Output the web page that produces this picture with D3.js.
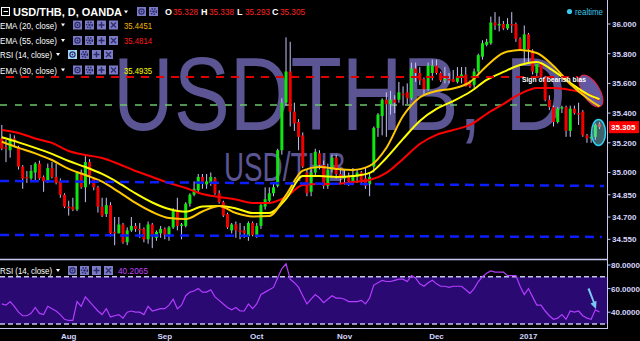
<!DOCTYPE html>
<html>
<head>
<meta charset="utf-8">
<script src="https://cdn.jsdelivr.net/npm/d3@7"></script>
<style>
  html, body { margin: 0; padding: 0; background: #000; }
  svg { display: block; }
  text { font-family: "Liberation Sans", Arial, sans-serif; }
</style>
</head>
<body>
<div id="chart"></div>
<script>
// Data: daily candles [open, high, low, close], Jul 8 2016 -> Jan 2017
const candles = [
  [35.23,35.32,35.15,35.16],[35.17,35.22,35.07,35.16],[35.15,35.26,35.10,35.23],[35.23,35.25,35.17,35.22],
  [35.17,35.18,35.02,35.04],[35.04,35.05,34.89,34.96],[34.97,35.01,34.93,34.96],[34.96,35.05,34.95,35.01],
  [35.00,35.07,34.94,35.06],[35.06,35.08,34.95,34.96],[34.97,34.98,34.87,34.94],[34.94,35.06,34.93,35.03],
  [35.03,35.07,34.96,34.97],[34.97,35.06,34.92,34.93],[34.94,34.96,34.83,34.85],[34.85,34.86,34.76,34.77],
  [34.77,34.81,34.71,34.76],[34.77,34.83,34.74,34.75],[34.75,35.01,34.74,35.00],[35.00,35.02,34.89,34.90],
  [34.90,35.11,34.80,35.07],[35.07,35.09,34.92,34.98],[34.96,34.97,34.88,34.90],[34.90,34.91,34.73,34.77],
  [34.77,34.83,34.70,34.71],[34.72,34.83,34.70,34.78],[34.78,34.80,34.57,34.59],[34.60,34.70,34.51,34.59],
  [34.59,34.70,34.59,34.65],[34.65,34.66,34.52,34.53],[34.53,34.63,34.51,34.61],[34.61,34.70,34.60,34.64],
  [34.64,34.66,34.60,34.62],[34.62,34.66,34.56,34.61],[34.62,34.63,34.53,34.55],[34.55,34.67,34.52,34.65],
  [34.65,34.66,34.49,34.57],[34.56,34.61,34.54,34.60],[34.59,34.64,34.56,34.62],[34.62,34.63,34.55,34.58],
  [34.58,34.64,34.54,34.63],[34.63,34.76,34.62,34.74],[34.74,34.83,34.61,34.64],[34.64,34.66,34.55,34.65],
  [34.64,34.80,34.63,34.79],[34.79,34.86,34.77,34.85],[34.85,34.94,34.84,34.89],[34.88,34.99,34.86,34.97],
  [34.97,34.99,34.89,34.93],[34.92,34.99,34.89,34.94],[34.93,35.00,34.91,34.97],[34.96,34.97,34.85,34.86],
  [34.86,34.88,34.79,34.80],[34.80,34.81,34.70,34.71],[34.72,34.73,34.62,34.63],[34.61,34.66,34.59,34.65],
  [34.65,34.67,34.56,34.61],[34.61,34.66,34.55,34.60],[34.61,34.64,34.56,34.59],[34.57,34.67,34.54,34.66],
  [34.66,34.67,34.57,34.58],[34.58,34.66,34.56,34.64],[34.64,34.79,34.62,34.78],[34.77,34.90,34.75,34.82],
  [34.81,34.90,34.79,34.86],[34.86,34.93,34.84,34.90],[34.91,35.16,34.90,35.15],[35.15,35.50,35.12,35.47],
  [35.47,35.91,35.45,35.68],[35.68,35.88,35.31,35.41],[35.41,35.47,35.28,35.33],[35.34,35.36,35.15,35.24],
  [35.25,35.27,35.03,35.04],[35.00,35.02,34.84,34.86],[34.87,35.02,34.84,35.00],[35.00,35.16,34.98,35.14],
  [35.13,35.15,35.02,35.05],[35.05,35.08,34.89,34.91],[34.91,35.06,34.89,35.02],[35.02,35.12,35.00,35.10],
  [35.10,35.12,34.96,34.99],[34.99,35.03,34.92,34.96],[34.96,35.02,34.92,34.97],[34.97,35.00,34.91,34.94],
  [34.94,35.03,34.92,34.98],[34.97,35.02,34.93,35.00],[35.00,35.01,34.93,34.95],[34.96,35.03,34.89,34.91],
  [34.92,35.00,34.84,34.97],[35.04,35.31,35.00,35.30],[35.30,35.40,35.24,35.39],[35.38,35.50,35.25,35.49],
  [35.49,35.54,35.24,35.46],[35.46,35.55,35.39,35.49],[35.49,35.52,35.40,35.47],[35.49,35.61,35.47,35.54],
  [35.53,35.58,35.45,35.52],[35.54,35.60,35.46,35.50],[35.50,35.74,35.49,35.70],[35.70,35.74,35.61,35.67],
  [35.67,35.71,35.59,35.62],[35.63,35.64,35.52,35.56],[35.56,35.74,35.55,35.72],[35.67,35.76,35.62,35.72],
  [35.72,35.76,35.66,35.67],[35.67,35.68,35.61,35.62],[35.62,35.71,35.60,35.63],[35.63,35.67,35.60,35.62],
  [35.63,35.69,35.61,35.61],[35.61,35.71,35.60,35.64],[35.64,35.71,35.60,35.66],[35.66,35.71,35.58,35.58],
  [35.60,35.62,35.57,35.58],[35.59,35.70,35.57,35.68],[35.68,35.80,35.66,35.79],[35.78,35.89,35.76,35.87],
  [35.86,35.90,35.85,35.88],[35.87,36.05,35.86,36.01],[36.01,36.08,35.96,35.99],[35.99,36.05,35.95,36.00],
  [36.00,36.02,35.96,35.97],[35.97,36.04,35.96,36.00],[36.00,36.08,35.94,35.99],[36.00,36.01,35.88,35.90],
  [35.90,35.91,35.82,35.83],[35.83,35.99,35.74,35.93],[35.93,35.94,35.73,35.83],[35.82,35.83,35.66,35.68],
  [35.67,35.73,35.64,35.73],[35.73,35.74,35.63,35.64],[35.64,35.65,35.48,35.49],[35.49,35.52,35.42,35.44],
  [35.44,35.45,35.31,35.34],[35.34,35.44,35.33,35.43],[35.43,35.45,35.40,35.44],[35.44,35.45,35.24,35.28],
  [35.28,35.45,35.24,35.43],[35.43,35.45,35.39,35.40],[35.40,35.47,35.32,35.39],[35.41,35.42,35.24,35.25],
  [35.25,35.26,35.20,35.23],[35.23,35.26,35.20,35.24],[35.24,35.33,35.22,35.32],[35.328,35.338,35.293,35.305]
]

// RSI(14) per bar
const rsi = [
  47,46,49,45,40,37,37,39,44,39, 38,45,43,41,38,34,33,33,49,45,
  53,49,45,41,38,43,36,37,38,35, 40,41,40,40,38,45,41,42,43,43,
  46,51,43,46,54,57,58,60,57,57, 59,53,50,47,44,42,44,41,41,47,
  43,47,55,57,59,61,69,77,81,68, 65,61,54,47,51,55,52,48,51,54,
  52,52,51,49,49,49,50,47,52,63, 65,67,66,66,67,68,68,66,71,69,
  64,62,65,67,64,62,62,61,62,62, 62,59,56,60,66,70,73,75,74,74,
  74,71,71,71,62,55,60,53,46,46, 41,37,34,35,38,34,41,40,41,37,
  35,34,42,40.2065
]

// EMA readings, sampled at these bars
const emaBars = [0,4,8,12,16,20,24,28,32,36,40,44,48,52,56,60,64,68,72,76,80,84,88,92,96,100,104,108,112,116,120,124,128,132,136,140,143]
const ema20 = [35.207,35.166,35.129,35.084,35.024,34.983,34.938,34.869,34.795,34.734,34.694,34.687,34.737,34.774,34.727,34.704,34.707,34.848,35.013,35.037,35.024,35.017,35.044,35.165,35.380,35.505,35.549,35.566,35.609,35.717,35.805,35.825,35.805,35.717,35.596,35.502,35.445]
const ema30 = [35.237,35.203,35.166,35.125,35.077,35.037,34.990,34.929,34.859,34.798,34.754,34.736,34.771,34.774,34.758,34.727,34.727,34.822,34.976,34.976,34.970,34.976,34.997,35.098,35.226,35.347,35.428,35.481,35.542,35.623,35.677,35.724,35.744,35.684,35.603,35.529,35.4935]
const ema55 = [35.286,35.266,35.229,35.199,35.145,35.118,35.098,35.057,35.010,34.970,34.929,34.896,34.855,34.835,34.818,34.795,34.795,34.835,34.916,34.923,34.923,34.936,34.949,34.997,35.091,35.192,35.253,35.286,35.320,35.394,35.461,35.529,35.569,35.569,35.556,35.529,35.488]

// axis ticks
const priceTicks = [36.0, 35.8, 35.6, 35.4, 35.2, 35.0, 34.85, 34.7, 34.55]
const rsiTicks = [80, 60, 40]
const monthLabels = ['Aug', 'Sep', 'Oct', 'Nov', 'Dec', '2017']
const monthBars = [16, 39, 61, 82, 104, 126]

// drawn levels (price at left end, price at right end)
const resistanceLevel = [35.643, 35.643]
const pivotLevel = [35.455, 35.455]
const supportUpper = [34.943, 34.909]
const supportLower = [34.579, 34.566]

// legend values
const lastOHLC = ['35.328', '35.338', '35.293', '35.305']
const legendRows = [
  { name: 'EMA (20, close)', value: '35.4451', color: '#f2b600' },
  { name: 'EMA (55, close)', value: '35.4814', color: '#ff1a1a' },
  { name: 'RSI (14, close)', value: '', color: '' },
  { name: 'EMA (30, close)', value: '35.4935', color: '#ffff00' }
]

function draw() {
  const dimensions = {
    width: 640,
    height: 341,
    axisX: 607.5,
    mainBottom: 259,
    rsiBottom: 328
  }

  const svg = d3.select('#chart')
    .append('svg')
    .attr('width', dimensions.width)
    .attr('height', dimensions.height)
    .style('background', '#000')

  // Scales
  const xScale = d3.scaleLinear().domain([0, candles.length - 1]).range([1.8, 599.5])
  const yScale = d3.scaleLinear().domain([34.55, 36.0]).range([239.3, 24])
  const rsiScale = d3.scaleLinear().domain([30, 80]).range([324, 265])

  svg.append('clipPath').attr('id', 'mainClip')
    .append('rect').attr('x', 0).attr('y', 0).attr('width', 607).attr('height', dimensions.mainBottom)

  const main = svg.append('g').attr('clip-path', 'url(#mainClip)')

  // watermarks
  main.append('text').text('USDTHB, D')
    .attr('x', 113).attr('y', 130)
    .attr('font-size', 104)
    .attr('textLength', 453).attr('lengthAdjust', 'spacingAndGlyphs')
    .attr('fill', '#5c5594')
  main.append('text').text('USD/THB')
    .attr('x', 224).attr('y', 181)
    .attr('font-size', 40)
    .attr('textLength', 122).attr('lengthAdjust', 'spacingAndGlyphs')
    .attr('fill', '#5c5594')

  // horizontal levels
  const levelLine = (vals, x0, x1, color, w, dash) => {
    main.append('line')
      .attr('x1', x0).attr('x2', x1)
      .attr('y1', yScale(vals[0])).attr('y2', yScale(vals[1]))
      .attr('stroke', color).attr('stroke-width', w)
      .attr('stroke-dasharray', dash)
  }
  levelLine(pivotLevel, 0, 552, '#6cc46c', 1.5, '7,8')

  // candles
  const wicks = main.append('g')
  wicks.selectAll('rect').data(candles).join('rect')
    .attr('x', (d, i) => xScale(i) - 0.5)
    .attr('y', d => yScale(d[1]))
    .attr('width', 1)
    .attr('height', d => yScale(d[2]) - yScale(d[1]))
    .attr('fill', '#c4c4f6')
  const bodies = main.append('g')
  bodies.selectAll('rect').data(candles).join('rect')
    .attr('x', (d, i) => xScale(i) - 1.5)
    .attr('y', d => yScale(Math.max(d[0], d[3])))
    .attr('width', 3)
    .attr('height', d => Math.max(1, Math.abs(yScale(d[0]) - yScale(d[3]))))
    .attr('fill', d => d[3] >= d[0] ? '#10e610' : '#f20000')

  // annotation ellipse (bearish bias)
  main.append('ellipse')
    .attr('cx', 591).attr('cy', 91).attr('rx', 8.5).attr('ry', 18)
    .attr('transform', 'rotate(-32, 591, 91)')
    .attr('fill', '#7468c0').attr('fill-opacity', 0.85)
    .attr('stroke', '#e8204a').attr('stroke-width', 1)

  // EMA lines
  const emaLine = d3.line()
    .x((d, k) => xScale(emaBars[k]))
    .y(d => yScale(d))
    .curve(d3.curveMonotoneX)
  main.append('path').datum(ema55).attr('d', emaLine)
    .attr('fill', 'none').attr('stroke', '#ff0000').attr('stroke-width', 2)
  main.append('path').datum(ema30).attr('d', emaLine)
    .attr('fill', 'none').attr('stroke', '#ffff00').attr('stroke-width', 2)
  main.append('path').datum(ema20).attr('d', emaLine)
    .attr('fill', 'none').attr('stroke', '#ffc800').attr('stroke-width', 2)

  levelLine(resistanceLevel, 6, 578, '#e00000', 2, '8,7')
  levelLine(supportUpper, 0, 604, '#0a1eff', 2.5, '9,6')
  levelLine(supportLower, 0, 602, '#0a1eff', 2.5, '9,6')

  // last candles highlight
  main.append('ellipse')
    .attr('cx', 598.5).attr('cy', 132.5)
    .attr('rx', 7).attr('ry', 13)
    .attr('fill', '#8adcf2').attr('fill-opacity', 0.45)
    .attr('stroke', '#2ed0f2').attr('stroke-width', 1.5)

  main.append('text').text('Sign of bearish bias')
    .attr('x', 522).attr('y', 82)
    .attr('font-size', 7.5).attr('font-weight', 'bold')
    .attr('textLength', 64).attr('lengthAdjust', 'spacingAndGlyphs')
    .attr('fill', '#fff')

  // RSI pane
  svg.append('line')
    .attr('x1', 0).attr('x2', dimensions.axisX)
    .attr('y1', dimensions.mainBottom + 0.5).attr('y2', dimensions.mainBottom + 0.5)
    .attr('stroke', '#c8c8f0').attr('stroke-width', 1.5)
  svg.append('rect')
    .attr('x', 0).attr('width', dimensions.axisX)
    .attr('y', rsiScale(70)).attr('height', rsiScale(30) - rsiScale(70))
    .attr('fill', '#2a0a72')
  ;[70, 30].forEach(v => {
    svg.append('line')
      .attr('x1', 0).attr('x2', dimensions.axisX)
      .attr('y1', rsiScale(v)).attr('y2', rsiScale(v))
      .attr('stroke', '#c4c4e8').attr('stroke-width', 1.5)
      .attr('stroke-dasharray', '5,3')
  })
  const rsiLine = d3.line()
    .x((d, i) => xScale(i))
    .y(d => rsiScale(d))
  svg.append('path').datum(rsi).attr('d', rsiLine)
    .attr('fill', 'none').attr('stroke', '#b23cff').attr('stroke-width', 1.2)

  // arrow in RSI pane
  svg.append('path')
    .attr('d', 'M587.5,289 L593,302.5 L590.5,303.5 L596,309 L596.5,301 L594.5,301.5 L589.5,288 Z')
    .attr('fill', '#7cc8f2')

  svg.append('line')
    .attr('x1', 0).attr('x2', dimensions.axisX)
    .attr('y1', dimensions.rsiBottom + 0.5).attr('y2', dimensions.rsiBottom + 0.5)
    .attr('stroke', '#c8c8f0').attr('stroke-width', 1.2)

  // right axis
  svg.append('line')
    .attr('x1', dimensions.axisX).attr('x2', dimensions.axisX)
    .attr('y1', 0).attr('y2', dimensions.rsiBottom + 1)
    .attr('stroke', '#c8c8f0').attr('stroke-width', 1)

  const priceAxis = svg.append('g')
  priceTicks.forEach(t => {
    priceAxis.append('line')
      .attr('x1', dimensions.axisX).attr('x2', dimensions.axisX + 3)
      .attr('y1', yScale(t)).attr('y2', yScale(t))
      .attr('stroke', '#c8c8f0')
    priceAxis.append('text').text(t.toFixed(3))
      .attr('x', 612).attr('y', yScale(t) + 3)
      .attr('font-size', 8).attr('font-weight', 'bold')
      .attr('fill', '#d6d6ff')
  })
  rsiTicks.forEach(t => {
    priceAxis.append('line')
      .attr('x1', dimensions.axisX).attr('x2', dimensions.axisX + 3)
      .attr('y1', rsiScale(t)).attr('y2', rsiScale(t))
      .attr('stroke', '#c8c8f0')
    priceAxis.append('text').text(t.toFixed(4))
      .attr('x', 611).attr('y', rsiScale(t) + 3)
      .attr('font-size', 8).attr('font-weight', 'bold')
      .attr('fill', '#d6d6ff')
  })

  // last price tag
  const lastClose = candles[candles.length - 1][3]
  svg.append('rect')
    .attr('x', 609).attr('y', yScale(lastClose) - 6)
    .attr('width', 30).attr('height', 12)
    .attr('fill', '#ff0000')
  svg.append('text').text(lastClose.toFixed(3))
    .attr('x', 611).attr('y', yScale(lastClose) + 3)
    .attr('font-size', 8).attr('font-weight', 'bold')
    .attr('fill', '#fff')

  // month labels
  monthLabels.forEach((m, k) => {
    svg.append('text').text(m)
      .attr('x', xScale(monthBars[k])).attr('y', 339)
      .attr('text-anchor', 'middle')
      .attr('font-size', 8).attr('font-weight', 'bold')
      .attr('fill', '#d6d6ff')
  })

  // legend buttons (eye, gear, plus, close)
  const icons = (x0, cy, count, highlight) => {
    const g = svg.append('g')
    for (let k = 0; k < count; k++) {
      const x = x0 + k * 12
      g.append('rect')
        .attr('x', x).attr('y', cy - 4.5).attr('width', 9).attr('height', 9)
        .attr('fill', highlight && k === 0 ? '#9cd6f8' : '#7c7cc6')
      const c = x + 4.5
      if (k === 0) {
        g.append('circle').attr('cx', c).attr('cy', cy).attr('r', 2.6)
          .attr('fill', 'none').attr('stroke', '#2c2c6c').attr('stroke-width', 1.2)
        g.append('circle').attr('cx', c).attr('cy', cy).attr('r', 1).attr('fill', '#2c2c6c')
      } else if (k === 1) {
        g.append('circle').attr('cx', c).attr('cy', cy).attr('r', 2.8)
          .attr('fill', 'none').attr('stroke', '#2c2c6c').attr('stroke-width', 1.6)
          .attr('stroke-dasharray', '1.5,1.2')
        g.append('circle').attr('cx', c).attr('cy', cy).attr('r', 1.2).attr('fill', '#2c2c6c')
      } else if (k === 2) {
        g.append('path').attr('d', `M${c - 3},${cy} H${c + 3} M${c},${cy - 3} V${cy + 3}`)
          .attr('stroke', '#2c2c6c').attr('stroke-width', 1.5)
      } else {
        g.append('path').attr('d', `M${c - 2.5},${cy - 2.5} L${c + 2.5},${cy + 2.5} M${c + 2.5},${cy - 2.5} L${c - 2.5},${cy + 2.5}`)
          .attr('stroke', '#2c2c6c').attr('stroke-width', 1.3)
      }
    }
  }
  const caret = (x, cy) => {
    svg.append('path')
      .attr('d', `M${x},${cy - 1.5} L${x + 4},${cy - 1.5} L${x + 2},${cy + 1.5} Z`)
      .attr('fill', '#fff')
  }

  // title row
  svg.append('rect').attr('x', 1.5).attr('y', 7.5).attr('width', 8).attr('height', 8)
    .attr('fill', 'none').attr('stroke', '#fff').attr('stroke-width', 1)
  svg.append('line').attr('x1', 3.5).attr('x2', 8).attr('y1', 11.5).attr('y2', 11.5)
    .attr('stroke', '#fff')
  svg.append('text').text('USD/THB, D, OANDA')
    .attr('x', 13).attr('y', 15.5)
    .attr('font-size', 11).attr('font-weight', 'bold')
    .attr('textLength', 109).attr('lengthAdjust', 'spacingAndGlyphs')
    .attr('fill', '#fff')
  caret(124, 12)
  icons(137, 11.5, 2, false)
  const ohlcLetters = ['O', 'H', 'L', 'C']
  const ohlcX = [165, 201, 237, 272]
  ohlcLetters.forEach((l, k) => {
    svg.append('text').text(l)
      .attr('x', ohlcX[k]).attr('y', 15)
      .attr('font-size', 9).attr('font-weight', 'bold').attr('fill', '#fff')
    svg.append('text').text(lastOHLC[k])
      .attr('x', ohlcX[k] + 8).attr('y', 15)
      .attr('font-size', 9)
      .attr('textLength', 25).attr('lengthAdjust', 'spacingAndGlyphs')
      .attr('fill', '#ff2020')
  })

  // indicator rows
  const rowY = [25, 40.5, 54.5, 70]
  legendRows.forEach((r, k) => {
    const cy = rowY[k]
    const isRsi = r.value === ''
    svg.append('text').text(r.name)
      .attr('x', 0).attr('y', cy + 3.5)
      .attr('font-size', 9.5)
      .attr('textLength', isRsi ? 52 : 57).attr('lengthAdjust', 'spacingAndGlyphs')
      .attr('fill', '#fff')
    caret(isRsi ? 56 : 61, cy)
    icons(isRsi ? 68 : 73, cy, 4, isRsi)
    if (!isRsi) {
      svg.append('text').text(r.value)
        .attr('x', 124).attr('y', cy + 3.5)
        .attr('font-size', 9.5)
        .attr('textLength', 28).attr('lengthAdjust', 'spacingAndGlyphs')
        .attr('fill', r.color)
    }
  })

  // RSI legend
  svg.append('text').text('RSI (14, close)')
    .attr('x', 0).attr('y', 274)
    .attr('font-size', 9.5)
    .attr('textLength', 52).attr('lengthAdjust', 'spacingAndGlyphs')
    .attr('fill', '#fff')
  caret(56, 270.5)
  icons(68, 270.5, 4, false)
  svg.append('text').text(rsi[rsi.length - 1].toFixed(4))
    .attr('x', 118).attr('y', 274)
    .attr('font-size', 9.5)
    .attr('textLength', 30).attr('lengthAdjust', 'spacingAndGlyphs')
    .attr('fill', '#c040ff')

  // realtime badge
  svg.append('circle').attr('cx', 569.5).attr('cy', 11.5).attr('r', 2.6).attr('fill', '#3cc8ec')
  svg.append('text').text('realtime')
    .attr('x', 575).attr('y', 14.5)
    .attr('font-size', 8.5)
    .attr('textLength', 28).attr('lengthAdjust', 'spacingAndGlyphs')
    .attr('fill', '#3cc8ec')
}
draw()
</script>
</body>
</html>
